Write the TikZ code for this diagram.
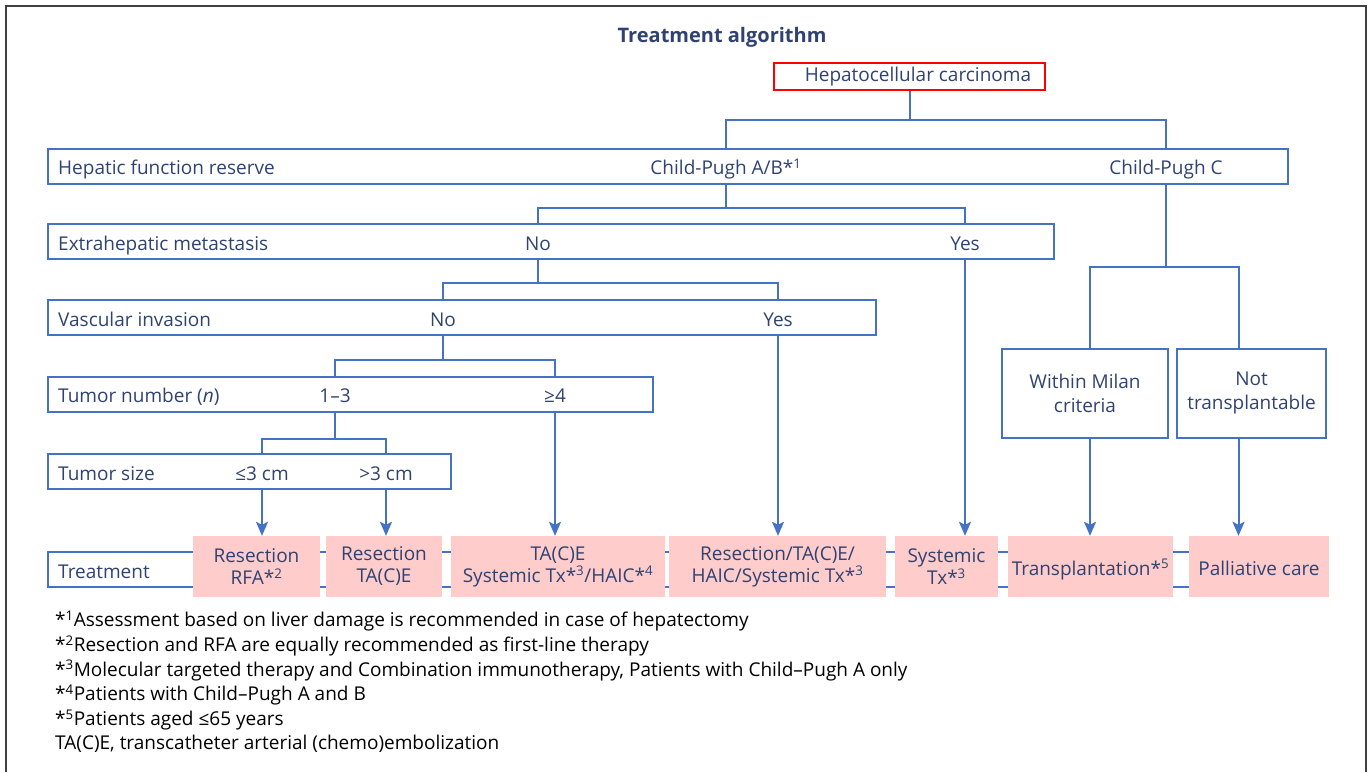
\documentclass[tikz,border=0pt]{standalone}
\usepackage{fontspec}
\setmainfont{Open Sans}
\usetikzlibrary{arrows.meta,positioning}
\definecolor{navy}{RGB}{47,66,112}
\definecolor{lineblue}{RGB}{68,114,196}
\definecolor{pinkfill}{RGB}{255,204,204}
\begin{document}
\begin{tikzpicture}[x=1pt,y=-1pt,>={Stealth[length=14pt,width=12pt,inset=3pt]},
    every node/.style={text=navy,font=\fontsize{19}{22}\selectfont},
    rowbox/.style={draw=lineblue,line width=2pt,inner sep=0pt,minimum height=35pt},
    txt/.style={inner sep=0pt,text height=21pt,text depth=4pt},
    trtbox/.style={fill=pinkfill,align=center,inner sep=0pt,minimum height=61pt},
    crit/.style={rowbox,align=center,minimum height=89pt,font=\fontsize{19}{24}\selectfont},
    link/.style={draw=lineblue,line width=2pt}]
  \useasboundingbox (0,0) rectangle (1370,772);
  \draw[black!75,line width=1.2pt] (6,772) -- (6,6) -- (1366,6) -- (1366,772);

  \node[font=\bfseries\fontsize{20}{24}\selectfont] (title) at (722,37) {Treatment algorithm};
  \node[draw=red,line width=1.5pt,inner sep=0pt,minimum width=271pt,minimum height=27pt] (hcc) at (909.5,76.5) {\hspace{17pt}Hepatocellular carcinoma};

  \node[rowbox,minimum width=1240pt] (hfr)   at (668,166)   {};
  \node[rowbox,minimum width=1006pt] (ehm)   at (551,241.5) {};
  \node[rowbox,minimum width=828pt]  (vasc)  at (462,317.5) {};
  \node[rowbox,minimum width=605pt]  (tnum)  at (350.5,394) {};
  \node[rowbox,minimum width=403pt]  (tsize) at (249.5,471.5) {};
  \node[rowbox,minimum width=1279pt] (trt)   at (687.5,569.5) {};

  \node[txt,anchor=west,right=11pt of hfr.west]   (hfrt)   {Hepatic function reserve};
  \node[txt,anchor=west,right=11pt of ehm.west]   (ehmt)   {Extrahepatic metastasis};
  \node[txt,anchor=west,right=11pt of vasc.west]  (vasct)  {Vascular invasion};
  \node[txt,anchor=west,right=11pt of tnum.west]  (tnumt)  {Tumor number (\textit{n})};
  \node[txt,anchor=west,right=11pt of tsize.west] (tsizet) {Tumor size};
  \node[txt,anchor=west,right=11pt of trt.west]   (trtt)   {Treatment};

  \node[txt] (cpab) at (726,166) {Child-Pugh A/B*\textsuperscript{1}};
  \node[txt] (cpc)  at (1166,166) {Child-Pugh C};
  \node[txt] (no2)  at (538,242) {No};
  \node[txt] (yes2) at (965,242) {Yes};
  \node[txt] (no3)  at (443,318) {No};
  \node[txt] (yes3) at (778,318) {Yes};
  \node[txt] (one3) at (335,394) {1–3};
  \node[txt] (four) at (555,394) {≥4};
  \node[txt] (le3)  at (262,472) {≤3 cm};
  \node[txt] (gt3)  at (386,472) {>3 cm};

  \node[crit,minimum width=166pt] (milan) at (1085,393)  {Within Milan\\criteria};
  \node[crit,minimum width=149pt] (notr)  at (1251.5,393) {Not\\transplantable};

  \node[trtbox,minimum width=127pt] (t1) at (256.5,566.5) {Resection\\RFA*\textsuperscript{2}};
  \node[trtbox,minimum width=116pt] (t2) at (384,566.5)   {Resection\\TA(C)E};
  \node[trtbox,minimum width=214pt] (t3) at (558,566.5)   {TA(C)E\\Systemic Tx*\textsuperscript{3}/HAIC*\textsuperscript{4}};
  \node[trtbox,minimum width=217pt] (t4) at (777.5,566.5) {Resection/TA(C)E/\\HAIC/Systemic Tx*\textsuperscript{3}};
  \node[trtbox,minimum width=103pt] (t5) at (946.5,566.5) {Systemic\\Tx*\textsuperscript{3}};
  \node[trtbox,minimum width=165pt,text height=19pt,text depth=2pt] (t6) at (1090.5,566.5) {Transplantation*\textsuperscript{5}};
  \node[trtbox,minimum width=140pt,text height=19pt,text depth=2pt] (t7) at (1259,566.5)  {Palliative care};

  \draw[link] (hcc.south) -- ++(0,29) coordinate (f0) -| (cpab |- hfr.north);
  \draw[link] (f0) -| (cpc |- hfr.north);
  \draw[link] (cpab |- hfr.south) -- ++(0,23) coordinate (f1) -| (no2 |- ehm.north);
  \draw[link] (f1) -| (yes2 |- ehm.north);
  \draw[link] (no2 |- ehm.south) -- ++(0,23) coordinate (f2) -| (no3 |- vasc.north);
  \draw[link] (f2) -| (yes3 |- vasc.north);
  \draw[link] (no3 |- vasc.south) -- ++(0,24) coordinate (f3) -| (one3 |- tnum.north);
  \draw[link] (f3) -| (four |- tnum.north);
  \draw[link] (one3 |- tnum.south) -- ++(0,26) coordinate (f4) -| (le3 |- tsize.north);
  \draw[link] (f4) -| (gt3 |- tsize.north);
  \draw[link] (cpc |- hfr.south) -- ++(0,82) coordinate (f5) -| ([xshift=5pt]milan.north);
  \draw[link] (f5) -| ([xshift=-13pt]notr.north);

  \draw[link,->] (le3 |- tsize.south) -- (le3 |- t1.north);
  \draw[link,->] (gt3 |- tsize.south) -- (gt3 |- t2.north);
  \draw[link,->] (four |- tnum.south) -- (four |- t3.north);
  \draw[link,->] (yes3 |- vasc.south) -- (yes3 |- t4.north);
  \draw[link,->] (yes2 |- ehm.south) -- (yes2 |- t5.north);
  \draw[link,->] ([xshift=5pt]milan.south) -- ([xshift=5pt]milan.south |- t6.north);
  \draw[link,->] ([xshift=-13pt]notr.south) -- ([xshift=-13pt]notr.south |- t7.north);

  \node[anchor=north west,align=left,text=black,inner sep=0pt,font=\fontsize{19}{24.6}\selectfont] (notes) at (55,611) {*\textsuperscript{1}Assessment based on liver damage is recommended in case of hepatectomy\\
    *\textsuperscript{2}Resection and RFA are equally recommended as first-line therapy\\
    *\textsuperscript{3}Molecular targeted therapy and Combination immunotherapy, Patients with Child–Pugh A only\\
    *\textsuperscript{4}Patients with Child–Pugh A and B\\
    *\textsuperscript{5}Patients aged ≤65 years\\
    TA(C)E, transcatheter arterial (chemo)embolization};
\end{tikzpicture}
\end{document}
